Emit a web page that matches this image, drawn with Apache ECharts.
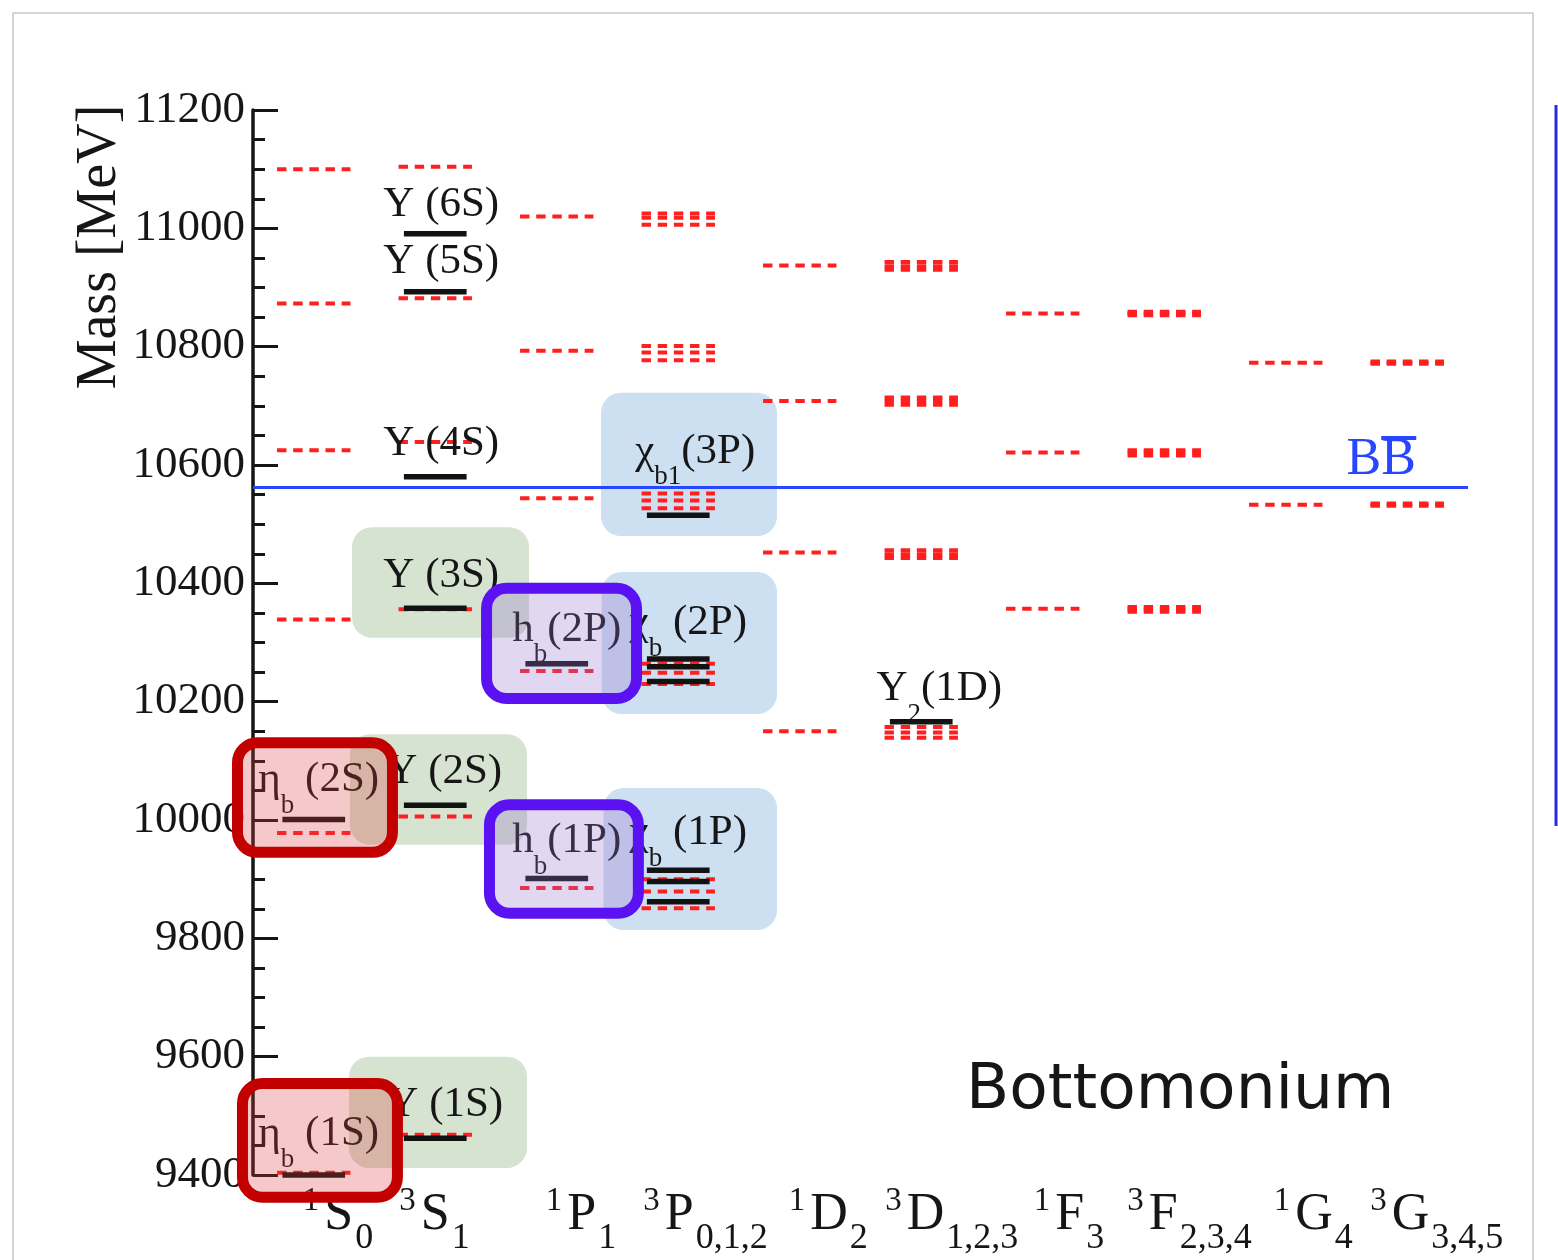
<!DOCTYPE html>
<html>
<head>
<meta charset="utf-8">
<title>Bottomonium spectrum</title>
<script src="https://cdn.jsdelivr.net/npm/echarts@6/dist/echarts.min.js"></script>
<style>
  html, body { margin: 0; padding: 0; background: #ffffff; }
  #chart { width: 1558px; height: 1260px; }
</style>
</head>
<body>
<div id="chart"></div>
<script>
// ---- spectroscopic columns (2S+1 L J) ----
const multiplicity = ['1', '3', '1', '3', '1', '3', '1', '3', '1', '3'];
const orbital      = ['S', 'S', 'P', 'P', 'D', 'D', 'F', 'F', 'G', 'G'];
const totalJ       = ['0', '1', '1', '0,1,2', '2', '1,2,3', '3', '2,3,4', '4', '3,4,5'];
const terms = multiplicity.map((m, i) => m + orbital[i] + totalJ[i]);

// ---- mass axis (MeV) ----
const massMin = 9400;
const massMax = 11200;
const massStep = 200;

// ---- measured states [column, mass MeV] ----
const measuredLevels = [
  [0, 9400], [0, 10001],
  [1, 9462], [1, 10025], [1, 10358], [1, 10580], [1, 10893], [1, 10991],
  [2, 9901], [2, 10264],
  [3, 9862], [3, 9896], [3, 9915], [3, 10234], [3, 10259], [3, 10272], [3, 10515],
  [5, 10166]
];

// ---- quark-model predictions [column, mass MeV] ----
const predictedLevels = [
  [0, 9404], [0, 9978], [0, 10339], [0, 10625], [0, 10873], [0, 11100],
  [1, 9468], [1, 10006], [1, 10356], [1, 10639], [1, 10882], [1, 11104],
  [2, 9885], [2, 10252], [2, 10544], [2, 10793], [2, 11020],
  [3, 9851], [3, 9879], [3, 9900], [3, 10230], [3, 10249], [3, 10264],
  [3, 10527], [3, 10540], [3, 10552], [3, 10777], [3, 10790], [3, 10801],
  [3, 11006], [3, 11018], [3, 11025],
  [4, 10150], [4, 10452], [4, 10708], [4, 10937],
  [5, 10139], [5, 10148], [5, 10157], [5, 10443], [5, 10449], [5, 10456],
  [5, 10702], [5, 10708], [5, 10714], [5, 10930], [5, 10936], [5, 10943],
  [6, 10357], [6, 10621], [6, 10856],
  [7, 10352], [7, 10356], [7, 10360], [7, 10616], [7, 10621], [7, 10625],
  [7, 10853], [7, 10856], [7, 10859],
  [8, 10533], [8, 10773],
  [9, 10531], [9, 10533], [9, 10535], [9, 10771], [9, 10773], [9, 10775]
];

// ---- open-bottom threshold (MeV) ----
const bbThreshold = 10562;

// ---- look ----
const SERIF = "'Liberation Serif', 'DejaVu Serif', serif";
const SANS = "'DejaVu Sans', 'Liberation Sans', sans-serif";
const INK = '#161616';
const THRESHOLD_BLUE = '#2846ff';

// column headings: font sizes and the left edge of each heading relative to its column centre (px)
const HEAD_SUP = 33, HEAD_MAIN = 52, HEAD_SUB = 36;
const termLabelLeft = [-11, -36, -11, -35, -11, -36, -9, -37, -12, -37];

// state names: column, mass of the name's centre line, horizontal nudge (px), rich text
const nameTags = [
  { col: 1, mass: 11041, dx: 6,   text: '{m|Υ (6S)}' },
  { col: 1, mass: 10946, dx: 6,   text: '{m|Υ (5S)}' },
  { col: 1, mass: 10637, dx: 6,   text: '{m|Υ (4S)}' },
  { col: 1, mass: 10414, dx: 6,   text: '{m|Υ (3S)}' },
  { col: 1, mass: 10083, dx: 9,   text: '{m|Υ (2S)}' },
  { col: 1, mass: 9520,  dx: 10,  text: '{m|Υ (1S)}' },
  { col: 0, mass: 10069, dx: 5,   text: '{m|η}{s|b}{m| (2S)}' },
  { col: 0, mass: 9471,  dx: 5,   text: '{m|η}{s|b}{m| (1S)}' },
  { col: 2, mass: 10324, dx: 10,  text: '{m|h}{s|b}{m|(2P)}' },
  { col: 2, mass: 9966,  dx: 10,  text: '{m|h}{s|b}{m|(1P)}' },
  { col: 3, mass: 10335, dx: 10,  text: '{m|χ}{s|b}{m| (2P)}' },
  { col: 3, mass: 9980,  dx: 10,  text: '{m|χ}{s|b}{m| (1P)}' },
  { col: 3, mass: 10625, dx: 17,  text: '{m|χ}{s|b1}{m|(3P)}' },
  { col: 5, mass: 10223, dx: 18,  text: '{m|Υ}{s|2}{m|(1D)}' },
  { col: 9, mass: 10644, dx: -26, text: '{sp| }{bar| }\n{bb|BB}', color: THRESHOLD_BLUE }
];

// highlight boxes: column, left/right edge in column widths, mass range
const boxStyles = {
  vector:  { fill: '#d5e3d0', stroke: null, lineWidth: 0 },
  triplet: { fill: '#cde0f1', stroke: null, lineWidth: 0 },
  singletP:{ fill: 'rgba(150,110,205,0.28)', stroke: '#5a12f2', lineWidth: 11 },
  singletS:{ fill: 'rgba(220,60,60,0.28)', stroke: '#c20000', lineWidth: 11 }
};
const backBoxes = [
  { kind: 'vector',  col: 1, from: -0.685, to: 0.772, lo: 10308, hi: 10495 },
  { kind: 'vector',  col: 1, from: -0.702, to: 0.755, lo: 9958,  hi: 10145 },
  { kind: 'vector',  col: 1, from: -0.710, to: 0.755, lo: 9412,  hi: 9600 },
  { kind: 'triplet', col: 3, from: -0.636, to: 0.813, lo: 10480, hi: 10722 },
  { kind: 'triplet', col: 3, from: -0.630, to: 0.813, lo: 10179, hi: 10419 },
  { kind: 'triplet', col: 3, from: -0.615, to: 0.813, lo: 9814,  hi: 10054 }
];
const frontBoxes = [
  { kind: 'singletP', col: 2, from: -0.623, to: 0.702, lo: 10196, hi: 10401 },
  { kind: 'singletP', col: 2, from: -0.599, to: 0.717, lo: 9833,  hi: 10035 },
  { kind: 'singletS', col: 0, from: -0.673, to: 0.693, lo: 9936,  hi: 10140 },
  { kind: 'singletS', col: 0, from: -0.632, to: 0.734, lo: 9353,  hi: 9564 }
];

// width of a heading, used to place it from its left edge while the axis centres it
const measureCtx = document.createElement('canvas').getContext('2d');
function textWidth(str, size) {
  measureCtx.font = size + 'px ' + SERIF;
  return measureCtx.measureText(str).width;
}
function headingPadding(i) {
  const w = textWidth(multiplicity[i], HEAD_SUP) + 5 +
            textWidth(orbital[i], HEAD_MAIN) + 2 +
            textWidth(totalJ[i], HEAD_SUB);
  return 2 * termLabelLeft[i] + w;
}

function levelRenderer(halfWidth, style) {
  return function (params, api) {
    const p = api.coord([api.value(0), api.value(1)]);
    const w = api.size([1, 0])[0] * halfWidth;
    return {
      type: 'line',
      shape: { x1: p[0] - w, y1: p[1], x2: p[0] + w, y2: p[1] },
      style: Object.assign({}, style)
    };
  };
}

function boxRenderer(list) {
  return function (params, api) {
    const b = list[params.dataIndex];
    const st = boxStyles[b.kind];
    const band = api.size([1, 0])[0];
    const top = api.coord([api.value(0), api.value(2)]);
    const bottom = api.coord([api.value(0), api.value(1)]);
    const x0 = top[0] + b.from * band;
    const x1 = top[0] + b.to * band;
    const inset = st.lineWidth / 2;
    return {
      type: 'rect',
      shape: {
        x: x0 + inset, y: top[1] + inset,
        width: x1 - x0 - 2 * inset, height: bottom[1] - top[1] - 2 * inset,
        r: 20
      },
      style: { fill: st.fill, stroke: st.stroke, lineWidth: st.lineWidth }
    };
  };
}

const nameRich = {
  m:  { fontFamily: SERIF, fontSize: 43, lineHeight: 43, verticalAlign: 'bottom', padding: [0, 0, 18, 0] },
  s:  { fontFamily: SERIF, fontSize: 27, lineHeight: 27, verticalAlign: 'bottom' },
  sp: { fontSize: 4, lineHeight: 4, width: 35, height: 4 },
  bar:{ fontSize: 4, lineHeight: 4, width: 35, height: 4, backgroundColor: THRESHOLD_BLUE },
  bb: { fontFamily: SERIF, fontSize: 52, lineHeight: 40 }
};

const chart = echarts.init(document.getElementById('chart'), null, { renderer: 'canvas' });

chart.setOption({
  animation: false,
  backgroundColor: '#ffffff',
  title: {
    text: 'Bottomonium',
    left: 966,
    top: 1060,
    padding: 0,
    textStyle: { fontFamily: SANS, fontSize: 63, fontWeight: 'normal', color: INK }
  },
  grid: { left: 253, top: 110, width: 1215, height: 1065, containLabel: false },
  xAxis: {
    type: 'category',
    data: terms.map((t, i) => ({ value: t, textStyle: { padding: [0, 0, 0, headingPadding(i)] } })),
    boundaryGap: true,
    axisLine: { show: false },
    axisTick: { show: false },
    splitLine: { show: false },
    axisLabel: {
      interval: 0,
      align: 'center',
      margin: 10,
      color: INK,
      formatter: (v, i) => '{u|' + multiplicity[i] + '}{m|' + orbital[i] + '}{d|' + totalJ[i] + '}',
      rich: {
        u: { fontFamily: SERIF, fontSize: HEAD_SUP, lineHeight: HEAD_SUP, verticalAlign: 'top', padding: [0, 5, 0, 0], color: INK },
        m: { fontFamily: SERIF, fontSize: HEAD_MAIN, lineHeight: HEAD_MAIN, verticalAlign: 'top', padding: [4, 2, 0, 0], color: INK },
        d: { fontFamily: SERIF, fontSize: HEAD_SUB, lineHeight: HEAD_SUB, verticalAlign: 'top', padding: [36, 0, 0, 0], color: INK }
      }
    }
  },
  yAxis: {
    type: 'value',
    min: massMin,
    max: massMax,
    interval: massStep,
    axisLine: { show: true, lineStyle: { color: INK, width: 3.5 } },
    axisTick: { show: true, inside: true, length: 25, lineStyle: { color: INK, width: 3 } },
    minorTick: { show: true, splitNumber: 4, length: 12, lineStyle: { color: INK, width: 3 } },
    splitLine: { show: false },
    minorSplitLine: { show: false },
    axisLabel: { fontFamily: SERIF, fontSize: 45, color: INK, margin: 8, formatter: v => String(v) }
  },
  graphic: [
    { type: 'rect', silent: true, shape: { x: 13, y: 13, width: 1520, height: 1280 },
      style: { fill: null, stroke: '#c8c8c8', lineWidth: 1.5 } },
    { type: 'line', silent: true, shape: { x1: 1556, y1: 105, x2: 1556, y2: 826 },
      style: { stroke: '#2a2ae6', lineWidth: 3 } },
    { type: 'text', silent: true, x: 100, y: 247, rotation: Math.PI / 2,
      style: { text: 'Mass [MeV]', font: '56px ' + SERIF, fill: INK, align: 'center', verticalAlign: 'middle' } }
  ],
  series: [
    {
      name: 'highlight (back)',
      type: 'custom',
      z: 1,
      silent: true,
      clip: false,
      encode: { x: 0, y: 1 },
      data: backBoxes.map(b => [b.col, b.lo, b.hi]),
      renderItem: boxRenderer(backBoxes)
    },
    {
      name: 'predicted',
      type: 'custom',
      z: 3,
      silent: true,
      encode: { x: 0, y: 1 },
      data: predictedLevels,
      renderItem: levelRenderer(0.302, { stroke: '#ff1f1f', lineWidth: 4, lineDash: [9.4, 6.75] })
    },
    {
      name: 'measured',
      type: 'custom',
      z: 4,
      silent: true,
      encode: { x: 0, y: 1 },
      data: measuredLevels,
      renderItem: levelRenderer(0.258, { stroke: '#121212', lineWidth: 5.5 })
    },
    {
      name: 'threshold',
      type: 'line',
      z: 4,
      data: [],
      markLine: {
        silent: true,
        symbol: 'none',
        label: { show: false },
        lineStyle: { color: THRESHOLD_BLUE, width: 3, type: 'solid' },
        data: [{ yAxis: bbThreshold }]
      }
    },
    {
      name: 'names',
      type: 'custom',
      z: 5,
      silent: true,
      clip: false,
      encode: { x: 0, y: 1 },
      data: nameTags.map(t => [t.col, t.mass]),
      renderItem: function (params, api) {
        const t = nameTags[params.dataIndex];
        const p = api.coord([api.value(0), api.value(1)]);
        return {
          type: 'text',
          x: p[0] + t.dx,
          y: p[1] + 19,
          style: {
            text: t.text,
            rich: nameRich,
            fill: t.color || INK,
            align: 'center',
            verticalAlign: 'middle'
          }
        };
      }
    },
    {
      name: 'highlight (front)',
      type: 'custom',
      z: 6,
      silent: true,
      clip: false,
      encode: { x: 0, y: 1 },
      data: frontBoxes.map(b => [b.col, b.lo, b.hi]),
      renderItem: boxRenderer(frontBoxes)
    }
  ]
});
</script>
</body>
</html>
